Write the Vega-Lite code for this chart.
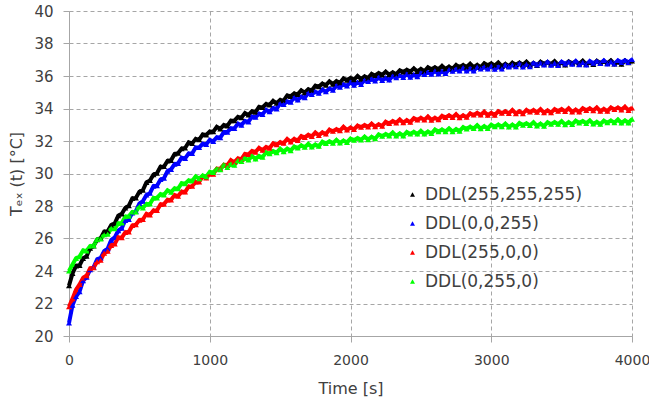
{
 "$schema": "https://vega.github.io/schema/vega-lite/v6.json",
 "width": 563, "height": 325,
 "autosize": {"type": "none"},
 "padding": {"left": 69, "top": 11, "right": 17, "bottom": 65},
 "background": "white",
 "config": {"view": {"stroke": null}, "font": "DejaVu Sans"},
 "data": {"values": [
{"t":0,"k":23.1,"b":20.8,"r":21.8,"g":24.0},
{"t":25,"k":23.85,"b":21.9,"r":22.3,"g":24.4},
{"t":50,"k":24.32,"b":22.43,"r":22.85,"g":24.78},
{"t":75,"k":24.35,"b":22.73,"r":23.17,"g":24.89},
{"t":100,"k":24.78,"b":23.4,"r":23.58,"g":25.27},
{"t":125,"k":24.91,"b":23.62,"r":23.72,"g":25.23},
{"t":150,"k":25.4,"b":24.08,"r":24.17,"g":25.53},
{"t":175,"k":25.55,"b":24.24,"r":24.2,"g":25.56},
{"t":200,"k":25.93,"b":24.72,"r":24.58,"g":25.95},
{"t":225,"k":26.02,"b":24.8,"r":24.66,"g":25.97},
{"t":250,"k":26.42,"b":25.23,"r":25.1,"g":26.23},
{"t":275,"k":26.45,"b":25.38,"r":25.22,"g":26.27},
{"t":300,"k":26.83,"b":25.9,"r":25.58,"g":26.62},
{"t":325,"k":26.93,"b":26.07,"r":25.67,"g":26.6},
{"t":350,"k":27.4,"b":26.48,"r":26.07,"g":26.93},
{"t":375,"k":27.52,"b":26.64,"r":26.05,"g":26.96},
{"t":400,"k":27.88,"b":27.12,"r":26.38,"g":27.35},
{"t":425,"k":28.02,"b":27.18,"r":26.41,"g":27.37},
{"t":450,"k":28.47,"b":27.58,"r":26.8,"g":27.63},
{"t":475,"k":28.5,"b":27.68,"r":26.85,"g":27.64},
{"t":500,"k":28.88,"b":28.15,"r":27.13,"g":27.97},
{"t":525,"k":28.98,"b":28.3,"r":27.17,"g":27.88},
{"t":550,"k":29.45,"b":28.68,"r":27.52,"g":28.13},
{"t":575,"k":29.57,"b":28.79,"r":27.45,"g":28.13},
{"t":600,"k":29.93,"b":29.22,"r":27.73,"g":28.5},
{"t":625,"k":30.02,"b":29.25,"r":27.73,"g":28.5},
{"t":650,"k":30.42,"b":29.63,"r":28.1,"g":28.73},
{"t":675,"k":30.43,"b":29.71,"r":28.12,"g":28.69},
{"t":700,"k":30.78,"b":30.15,"r":28.38,"g":28.97},
{"t":725,"k":30.81,"b":30.25,"r":28.37,"g":28.85},
{"t":750,"k":31.2,"b":30.58,"r":28.67,"g":29.08},
{"t":775,"k":31.25,"b":30.62,"r":28.6,"g":29.06},
{"t":800,"k":31.53,"b":30.97,"r":28.88,"g":29.4},
{"t":825,"k":31.57,"b":30.93,"r":28.86,"g":29.37},
{"t":850,"k":31.92,"b":31.23,"r":29.2,"g":29.58},
{"t":875,"k":31.85,"b":31.23,"r":29.22,"g":29.54},
{"t":900,"k":32.13,"b":31.6,"r":29.48,"g":29.82},
{"t":925,"k":32.08,"b":31.6,"r":29.49,"g":29.68},
{"t":950,"k":32.4,"b":31.83,"r":29.82,"g":29.88},
{"t":975,"k":32.37,"b":31.79,"r":29.73,"g":29.81},
{"t":1000,"k":32.58,"b":32.07,"r":29.98,"g":30.1},
{"t":1025,"k":32.57,"b":31.98,"r":29.96,"g":30.07},
{"t":1050,"k":32.87,"b":32.23,"r":30.3,"g":30.28},
{"t":1075,"k":32.75,"b":32.21,"r":30.3,"g":30.24},
{"t":1100,"k":32.98,"b":32.55,"r":30.53,"g":30.52},
{"t":1125,"k":32.93,"b":32.55,"r":30.52,"g":30.38},
{"t":1150,"k":33.25,"b":32.78,"r":30.82,"g":30.58},
{"t":1175,"k":33.25,"b":32.77,"r":30.7,"g":30.51},
{"t":1200,"k":33.48,"b":33.07,"r":30.93,"g":30.8},
{"t":1225,"k":33.44,"b":32.98,"r":30.88,"g":30.75},
{"t":1250,"k":33.72,"b":33.23,"r":31.2,"g":30.93},
{"t":1275,"k":33.6,"b":33.18,"r":31.17,"g":30.84},
{"t":1300,"k":33.83,"b":33.5,"r":31.38,"g":31.07},
{"t":1325,"k":33.78,"b":33.47,"r":31.32,"g":30.9},
{"t":1350,"k":34.1,"b":33.68,"r":31.57,"g":31.08},
{"t":1375,"k":34.07,"b":33.64,"r":31.43,"g":31.01},
{"t":1400,"k":34.28,"b":33.92,"r":31.63,"g":31.3},
{"t":1425,"k":34.22,"b":33.8,"r":31.56,"g":31.22},
{"t":1450,"k":34.47,"b":34.03,"r":31.85,"g":31.38},
{"t":1475,"k":34.33,"b":33.98,"r":31.77,"g":31.29},
{"t":1500,"k":34.53,"b":34.3,"r":31.93,"g":31.52},
{"t":1525,"k":34.48,"b":34.25,"r":31.87,"g":31.35},
{"t":1550,"k":34.8,"b":34.43,"r":32.12,"g":31.53},
{"t":1575,"k":34.75,"b":34.39,"r":31.95,"g":31.41},
{"t":1600,"k":34.93,"b":34.67,"r":32.13,"g":31.65},
{"t":1625,"k":34.87,"b":34.53,"r":32.03,"g":31.57},
{"t":1650,"k":35.12,"b":34.73,"r":32.3,"g":31.73},
{"t":1675,"k":34.98,"b":34.66,"r":32.22,"g":31.62},
{"t":1700,"k":35.18,"b":34.95,"r":32.38,"g":31.82},
{"t":1725,"k":35.11,"b":34.87,"r":32.29,"g":31.63},
{"t":1750,"k":35.4,"b":35.03,"r":32.52,"g":31.78},
{"t":1775,"k":35.35,"b":34.94,"r":32.35,"g":31.68},
{"t":1800,"k":35.53,"b":35.17,"r":32.53,"g":31.95},
{"t":1825,"k":35.44,"b":35.03,"r":32.43,"g":31.85},
{"t":1850,"k":35.67,"b":35.23,"r":32.7,"g":31.98},
{"t":1875,"k":35.5,"b":35.13,"r":32.6,"g":31.87},
{"t":1900,"k":35.68,"b":35.4,"r":32.73,"g":32.07},
{"t":1925,"k":35.58,"b":35.32,"r":32.64,"g":31.88},
{"t":1950,"k":35.85,"b":35.48,"r":32.87,"g":32.03},
{"t":1975,"k":35.75,"b":35.39,"r":32.68,"g":31.91},
{"t":2000,"k":35.88,"b":35.62,"r":32.83,"g":32.15},
{"t":2025,"k":35.78,"b":35.44,"r":32.71,"g":32.05},
{"t":2050,"k":36.0,"b":35.61,"r":32.95,"g":32.18},
{"t":2075,"k":35.81,"b":35.49,"r":32.85,"g":32.07},
{"t":2100,"k":35.98,"b":35.75,"r":32.98,"g":32.27},
{"t":2125,"k":35.87,"b":35.66,"r":32.87,"g":32.09},
{"t":2150,"k":36.13,"b":35.81,"r":33.07,"g":32.26},
{"t":2175,"k":36.03,"b":35.7,"r":32.88,"g":32.14},
{"t":2200,"k":36.18,"b":35.92,"r":33.03,"g":32.4},
{"t":2225,"k":36.07,"b":35.73,"r":32.92,"g":32.3},
{"t":2250,"k":36.27,"b":35.88,"r":33.18,"g":32.43},
{"t":2275,"k":36.08,"b":35.76,"r":33.08,"g":32.32},
{"t":2300,"k":36.23,"b":36.0,"r":33.23,"g":32.52},
{"t":2325,"k":36.11,"b":35.9,"r":33.12,"g":32.31},
{"t":2350,"k":36.35,"b":36.03,"r":33.32,"g":32.46},
{"t":2375,"k":36.25,"b":35.92,"r":33.13,"g":32.32},
{"t":2400,"k":36.38,"b":36.12,"r":33.28,"g":32.55},
{"t":2425,"k":36.27,"b":35.93,"r":33.16,"g":32.43},
{"t":2450,"k":36.47,"b":36.08,"r":33.4,"g":32.56},
{"t":2475,"k":36.28,"b":35.96,"r":33.3,"g":32.43},
{"t":2500,"k":36.43,"b":36.2,"r":33.43,"g":32.62},
{"t":2525,"k":36.29,"b":36.1,"r":33.3,"g":32.43},
{"t":2550,"k":36.53,"b":36.23,"r":33.5,"g":32.58},
{"t":2575,"k":36.41,"b":36.12,"r":33.29,"g":32.46},
{"t":2600,"k":36.53,"b":36.32,"r":33.43,"g":32.7},
{"t":2625,"k":36.42,"b":36.13,"r":33.31,"g":32.58},
{"t":2650,"k":36.62,"b":36.28,"r":33.55,"g":32.71},
{"t":2675,"k":36.43,"b":36.16,"r":33.45,"g":32.58},
{"t":2700,"k":36.58,"b":36.4,"r":33.58,"g":32.77},
{"t":2725,"k":36.44,"b":36.3,"r":33.45,"g":32.58},
{"t":2750,"k":36.68,"b":36.43,"r":33.65,"g":32.73},
{"t":2775,"k":36.56,"b":36.32,"r":33.44,"g":32.61},
{"t":2800,"k":36.68,"b":36.52,"r":33.58,"g":32.85},
{"t":2825,"k":36.55,"b":36.31,"r":33.46,"g":32.75},
{"t":2850,"k":36.75,"b":36.46,"r":33.7,"g":32.88},
{"t":2875,"k":36.54,"b":36.32,"r":33.6,"g":32.77},
{"t":2900,"k":36.68,"b":36.55,"r":33.73,"g":32.97},
{"t":2925,"k":36.54,"b":36.43,"r":33.6,"g":32.76},
{"t":2950,"k":36.78,"b":36.56,"r":33.8,"g":32.91},
{"t":2975,"k":36.66,"b":36.43,"r":33.59,"g":32.77},
{"t":3000,"k":36.78,"b":36.62,"r":33.73,"g":33.0},
{"t":3025,"k":36.64,"b":36.42,"r":33.59,"g":32.88},
{"t":3050,"k":36.83,"b":36.57,"r":33.83,"g":33.01},
{"t":3075,"k":36.61,"b":36.44,"r":33.71,"g":32.88},
{"t":3100,"k":36.75,"b":36.68,"r":33.83,"g":33.07},
{"t":3125,"k":36.6,"b":36.56,"r":33.7,"g":32.86},
{"t":3150,"k":36.82,"b":36.69,"r":33.9,"g":33.01},
{"t":3175,"k":36.7,"b":36.57,"r":33.69,"g":32.87},
{"t":3200,"k":36.83,"b":36.77,"r":33.83,"g":33.1},
{"t":3225,"k":36.69,"b":36.56,"r":33.69,"g":32.98},
{"t":3250,"k":36.88,"b":36.71,"r":33.91,"g":33.09},
{"t":3275,"k":36.66,"b":36.57,"r":33.79,"g":32.96},
{"t":3300,"k":36.8,"b":36.8,"r":33.91,"g":33.15},
{"t":3325,"k":36.65,"b":36.68,"r":33.77,"g":32.93},
{"t":3350,"k":36.88,"b":36.81,"r":33.96,"g":33.07},
{"t":3375,"k":36.75,"b":36.68,"r":33.74,"g":32.92},
{"t":3400,"k":36.86,"b":36.87,"r":33.88,"g":33.15},
{"t":3425,"k":36.73,"b":36.66,"r":33.74,"g":33.03},
{"t":3450,"k":36.91,"b":36.79,"r":33.96,"g":33.16},
{"t":3475,"k":36.7,"b":36.65,"r":33.84,"g":33.03},
{"t":3500,"k":36.83,"b":36.88,"r":33.96,"g":33.22},
{"t":3525,"k":36.68,"b":36.75,"r":33.82,"g":33.01},
{"t":3550,"k":36.9,"b":36.87,"r":34.01,"g":33.16},
{"t":3575,"k":36.78,"b":36.73,"r":33.79,"g":33.02},
{"t":3600,"k":36.89,"b":36.92,"r":33.93,"g":33.25},
{"t":3625,"k":36.75,"b":36.7,"r":33.79,"g":33.12},
{"t":3650,"k":36.94,"b":36.84,"r":34.01,"g":33.23},
{"t":3675,"k":36.72,"b":36.69,"r":33.89,"g":33.09},
{"t":3700,"k":36.85,"b":36.92,"r":34.01,"g":33.27},
{"t":3725,"k":36.71,"b":36.79,"r":33.87,"g":33.05},
{"t":3750,"k":36.93,"b":36.91,"r":34.06,"g":33.18},
{"t":3775,"k":36.8,"b":36.77,"r":33.84,"g":33.03},
{"t":3800,"k":36.91,"b":36.96,"r":33.98,"g":33.25},
{"t":3825,"k":36.78,"b":36.74,"r":33.84,"g":33.13},
{"t":3850,"k":36.96,"b":36.88,"r":34.06,"g":33.26},
{"t":3875,"k":36.74,"b":36.74,"r":33.94,"g":33.13},
{"t":3900,"k":36.87,"b":36.96,"r":34.06,"g":33.32},
{"t":3925,"k":36.73,"b":36.84,"r":33.92,"g":33.11},
{"t":3950,"k":36.95,"b":36.96,"r":34.11,"g":33.26},
{"t":3975,"k":36.82,"b":36.83,"r":33.89,"g":33.12},
{"t":4000,"k":36.93,"b":37.02,"r":34.03,"g":33.35}
 ]},
 "transform": [{"fold": ["k", "b", "r", "g"], "as": ["s", "v"]}],
 "encoding": {
  "x": {"field": "t", "type": "quantitative",
   "scale": {"domain": [0, 4000], "nice": false},
   "axis": {"values": [0, 1000, 2000, 3000, 4000], "format": "d", "grid": true, "gridDash": [4, 3], "gridColor": "#a6a6a6",
    "domainColor": "#a6a6a6", "tickColor": "#a6a6a6", "tickSize": 6, "labelFontSize": 14, "labelColor": "#404040",
    "labelPadding": 11, "labelFlush": false, "title": "Time [s]", "titleFontSize": 16, "titleFontWeight": "normal",
    "titleColor": "#404040", "titlePadding": 13}},
  "y": {"field": "v", "type": "quantitative",
   "scale": {"domain": [20, 40], "nice": false, "zero": false},
   "axis": {"values": [20, 22, 24, 26, 28, 30, 32, 34, 36, 38, 40], "grid": true, "gridDash": [4, 3], "gridColor": "#a6a6a6",
    "domainColor": "#a6a6a6", "tickColor": "#a6a6a6", "tickSize": 6, "labelFontSize": 15, "labelColor": "#404040",
    "labelPadding": 10, "labelFlush": false, "labelOverlap": false, "title": "Tₑₓ (t) [°C]", "titleFontSize": 16,
    "titleFontWeight": "normal", "titleColor": "#404040", "titlePadding": 9}},
  "color": {"field": "s", "type": "nominal",
   "scale": {"domain": ["k", "b", "r", "g"], "range": ["#000000", "#0000ff", "#ff0000", "#00ff00"]},
   "legend": {"title": null, "orient": "none", "legendX": 335, "legendY": 175, "symbolType": "triangle-up",
    "symbolSize": 25, "symbolStrokeWidth": 0, "labelFont": "DejaVu Sans", "labelFontSize": 17, "labelColor": "#404040",
    "labelOffset": 4, "rowPadding": 11, "padding": 0,
    "labelExpr": "datum.value == 'k' ? 'DDL(255,255,255)' : datum.value == 'b' ? 'DDL(0,0,255)' : datum.value == 'r' ? 'DDL(255,0,0)' : 'DDL(0,255,0)'"}}
 },
 "layer": [
  {"mark": {"type": "line", "strokeWidth": 4, "interpolate": "linear"}},
  {"mark": {"type": "point", "shape": "triangle-up", "filled": true, "size": 36, "opacity": 1}}
 ]
}
